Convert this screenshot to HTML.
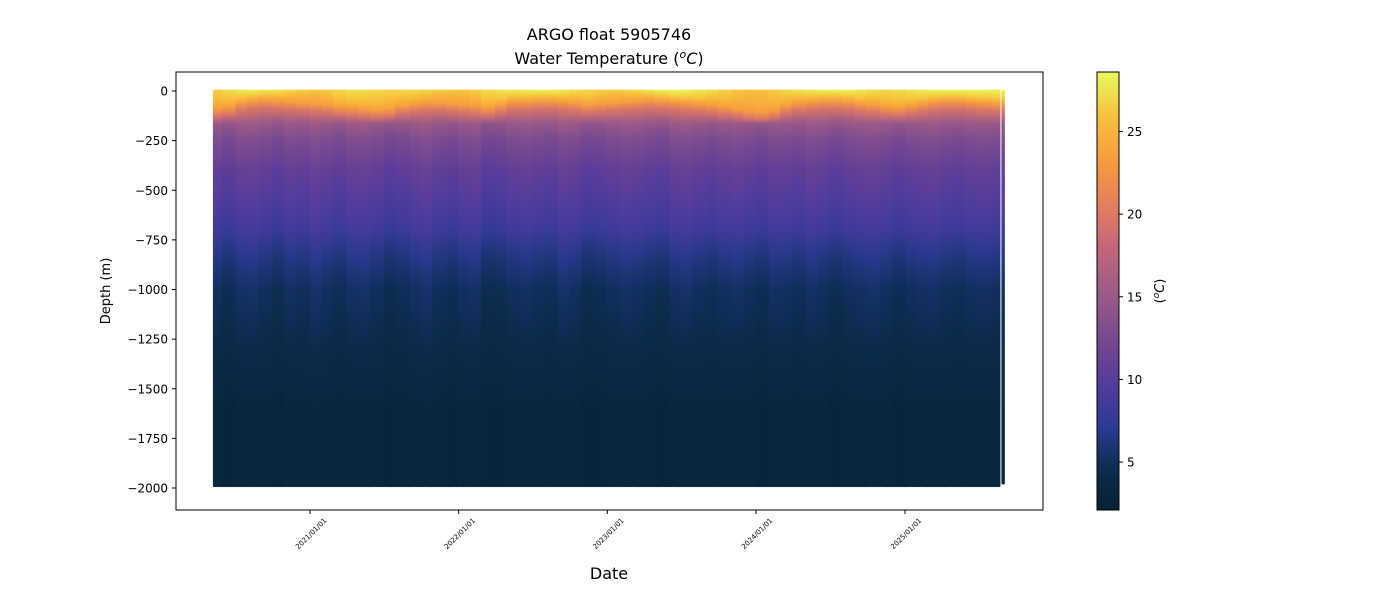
<!DOCTYPE html>
<html><head><meta charset="utf-8"><style>
body{margin:0;background:#fff;}
svg{display:block;font-family:"DejaVu Sans","Liberation Sans",sans-serif;}
</style></head><body>
<svg id="chart" width="1400" height="600" xmlns="http://www.w3.org/2000/svg">
<defs id="defs"></defs>
<text x="609" y="40" font-size="16" text-anchor="middle">ARGO float 5905746</text>
<text x="609" y="64" font-size="16" text-anchor="middle">Water Temperature (<tspan font-style="italic"><tspan dy="-6" font-size="11">o</tspan><tspan dy="6">C</tspan></tspan>)</text>
<g id="plot"></g>
<rect x="176" y="72" width="867" height="438" fill="none" stroke="#000" stroke-width="1"/>
<g id="yaxis"></g>
<g id="xaxis"></g>
<text transform="translate(110,291) rotate(-90)" font-size="13" text-anchor="middle">Depth (m)</text>
<text x="609" y="579" font-size="16" text-anchor="middle">Date</text>
<g id="cbar"></g>
<text transform="translate(1164,291) rotate(-90)" font-size="13" text-anchor="middle">(<tspan font-style="italic"><tspan dy="-5" font-size="9">o</tspan><tspan dy="5">C</tspan></tspan>)</text>
</svg>
<script>
// ---- data (monthly, starting 2020-05) ----
const months = Array.from({length:64},(_,i)=>i);
const sstMonthly = [26.5,27.2,28.0,28.3,28.2,27.8,27.2,26.6,26.3,26.5,27.0,27.4,27.3,27.0,26.8,26.9,27.2,27.0,26.6,26.3,26.2,26.6,27.2,27.8,28.0,28.2,28.4,28.3,27.9,27.4,27.0,26.7,26.6,26.9,27.5,28.1,28.4,28.5,28.3,27.9,27.3,26.8,26.2,25.8,25.9,26.4,27.0,27.6,28.0,28.3,28.4,28.3,27.9,27.4,27.0,27.2,27.6,28.0,28.4,28.6,28.6,28.5,28.4,28.3];
const mldMonthly = [60,50,30,20,15,20,25,30,35,40,50,55,60,65,60,45,35,30,30,35,40,45,55,40,25,25,20,20,25,30,40,35,30,25,20,15,20,25,30,35,40,50,60,70,75,65,45,30,25,20,20,25,35,40,50,55,45,35,25,20,20,25,30,35];
const deepAnom = [0.2,-0.3,0.4,0.5,0.1,-0.4,0.3,0.0,0.6,0.2,-0.2,0.4,0.5,0.1,-0.5,-0.2,0.3,0.6,0.0,-0.3,0.2,0.4,-0.6,-0.4,0.1,0.3,0.0,-0.2,0.5,0.2,-0.5,-0.3,0.1,0.4,0.2,-0.1,-0.4,0.3,0.5,0.1,-0.2,0.2,0.4,0.0,-0.3,0.3,0.2,-0.1,0.4,0.1,-0.4,0.0,0.3,0.5,0.2,-0.3,0.1,0.3,0.4,0.0,-0.2,0.2,0.3,0.1];
const refDepths = [170,250,400,550,700,850,1000,1300,1600,2000];
const refTemps  = [14.8,12.8,10.6,9.5,8.2,6.3,5.0,4.0,3.3,2.6];
const startDate = "2020-05-12", endDate = "2025-08-20", lastProfileDate = "2025-08-30";
const cycleDays = 7;
const xTicks = ["2021/01/01","2022/01/01","2023/01/01","2024/01/01","2025/01/01"];
const yTicks = [0,-250,-500,-750,-1000,-1250,-1500,-1750,-2000];
const cTicks = [5,10,15,20,25];
const cmin = 2.1, cmax = 28.6;

// ---- scales ----
const day = 864e5;
const t0 = Date.parse("2021-01-01"), t1 = Date.parse("2025-01-01");
const xS = d => 310 + (Date.parse(d.replace(/\//g,'-')) - t0)/(t1-t0)*(905-310);
const xT = t => 310 + (t - t0)/(t1-t0)*(905-310);
const yS = v => 91 + (-v)*(488-91)/2000;
const stops = [[0,[4,35,51]],[0.06,[9,40,66]],[0.11,[16,47,90]],[0.19,[44,58,150]],[0.3,[90,60,156]],[0.37,[111,69,144]],[0.49,[154,90,136]],[0.6,[196,102,122]],[0.68,[224,122,98]],[0.79,[248,152,63]],[0.9,[247,194,58]],[1,[232,250,91]]];
function cmap(T){let f=Math.max(0,Math.min(1,(T-cmin)/(cmax-cmin)));
 for(let i=1;i<stops.length;i++){if(f<=stops[i][0]){const a=stops[i-1],b=stops[i],u=(f-a[0])/(b[0]-a[0]);
 return 'rgb('+a[1].map((c,k)=>Math.round(c+(b[1][k]-c)*u)).join(',')+')';}} return 'rgb(232,250,91)';}
const NS="http://www.w3.org/2000/svg";
function el(tag,attrs,parent){const e=document.createElementNS(NS,tag);for(const k in attrs)e.setAttribute(k,attrs[k]);parent.appendChild(e);return e;}
const defs=document.getElementById('defs'), plot=document.getElementById('plot');

function drawProfile(t,idx,bottom,w){
 const d=new Date(t); const m=(d.getUTCFullYear()-2020)*12+d.getUTCMonth()-4;
 const mi=Math.max(0,Math.min(months.length-1,m));
 const sst=sstMonthly[mi], mld=mldMonthly[mi], an=deepAnom[mi];
 const dep=[0,mld,mld+35,mld+75].concat(refDepths);
 const tmp=[sst,sst-1.5,23.5,19.5].concat(refTemps.map((v,k)=>v+an*(k<7?1:0.3)));
 const g=el('linearGradient',{id:'g'+idx,x1:0,y1:0,x2:0,y2:1},defs);
 const top=yS(0), bot=yS(-bottom);
 dep.forEach((dd,k)=>{ if(dd>bottom) return; el('stop',{offset:((yS(-dd)-top)/(bot-top)).toFixed(4),'stop-color':cmap(tmp[k])},g);});
 const r=el('rect',{x:xT(t)-w/2,y:top-1.5,width:w,height:bot-top+3,rx:1.5,fill:'url(#g'+idx+')'},plot);
 
 
}
let idx=0;
for(let t=Date.parse(startDate);t<=Date.parse(endDate);t+=cycleDays*day){drawProfile(t,idx,1988,3.6);idx++;}
drawProfile(Date.parse(lastProfileDate),idx,1975,3.4);

// ---- axes ----
const ya=document.getElementById('yaxis');
yTicks.forEach(v=>{const y=yS(v);
 el('line',{x1:172,x2:176,y1:y,y2:y,stroke:'#000'},ya);
 const tx=el('text',{x:168,y:y+4.5,'font-size':12,'text-anchor':'end'},ya);
 
 
 tx.textContent=String(v).replace('-','\u2212');});
const xa=document.getElementById('xaxis');
xTicks.forEach(s=>{const x=xS(s);
 el('line',{x1:x,x2:x,y1:510,y2:514,stroke:'#000'},xa);
 const tx=el('text',{transform:`translate(${x+17},521) rotate(-45)`,'font-size':7,'text-anchor':'end'},xa);
 
 
 tx.textContent=s;});
// ---- colorbar ----
const cb=document.getElementById('cbar');
const cg=el('linearGradient',{id:'cbg',x1:0,y1:1,x2:0,y2:0},defs);
stops.forEach(s=>el('stop',{offset:s[0],'stop-color':'rgb('+s[1].join(',')+')'},cg));
el('rect',{x:1097,y:72,width:22,height:438,fill:'url(#cbg)',stroke:'#000','stroke-width':1},cb);
const cy=T=>510-(T-cmin)/(cmax-cmin)*438;
cTicks.forEach(T=>{const y=cy(T);
 el('line',{x1:1119,x2:1123,y1:y,y2:y,stroke:'#000'},cb);
 const tx=el('text',{x:1127,y:y+4.5,'font-size':12},cb);
 
 
 tx.textContent=T;});
</script>
</body></html>
